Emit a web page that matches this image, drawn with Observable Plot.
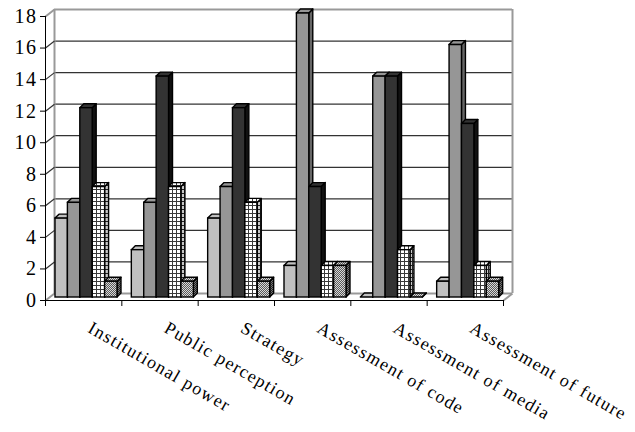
<!DOCTYPE html>
<html>
<head>
<meta charset="utf-8">
<script src="https://cdn.jsdelivr.net/npm/d3@7"></script>
<script src="https://cdn.jsdelivr.net/npm/@observablehq/plot@0.6"></script>
<style>
  html, body { margin: 0; padding: 0; background: #fff; }
  #chart svg, #chart svg text { font-family: "Liberation Serif", "Times New Roman", Tinos, serif !important; }
</style>
</head>
<body>
<div id="chart"></div>
<script>
// Categories along the floor of the 3D column chart
const categories = [
  "Institutional power",
  "Public perception",
  "Strategy",
  "Assessment of code",
  "Assessment of media",
  "Assessment of future"
];

// Five series, one value per category
const seriesNames = ["Series 1", "Series 2", "Series 3", "Series 4", "Series 5"];
const series1 = [5, 3, 5, 2, 0, 1];
const series2 = [6, 6, 7, 18, 14, 16];
const series3 = [12, 14, 12, 7, 14, 11];
const series4 = [7, 7, 6, 2, 3, 2];
const series5 = [1, 1, 1, 2, 0, 1];
const seriesValues = [series1, series2, series3, series4, series5];

// Value-axis tick labels
const yTicks = [0, 2, 4, 6, 8, 10, 12, 14, 16, 18];
// Category boundaries on the floor
const xBoundaries = [0, 1, 2, 3, 4, 5, 6];

// Face fills: front/top faces and the darker right-hand side faces
const frontFills = ["#c0c0c0", "#969696", "#333333", "url(#grid)", "url(#dots)"];
const sideFills = ["#8a8a8a", "#666666", "#111111", "url(#gridSide)", "url(#dotsSide)"];

// Geometry of the pseudo-3D box (in scale units)
const WALL_X = 0.118, WALL_Y = 0.444;  // depth from front edge to back wall
const CAP_X = 0.052, CAP_Y = 0.25;     // depth of each column
const OFFSET = 0.131, BW = 0.1625;     // first column inset and column width

const bars = categories.flatMap((cat, i) =>
  seriesValues.map((vals, j) => {
    const x1 = i + OFFSET + j * BW;
    return {id: `${i}-${j}`, cat, series: seriesNames[j], value: vals[i], x1, x2: x1 + BW};
  })
);

const tops = bars.flatMap(b => [
  {id: b.id, key: b.series, y: b.value, x1: b.x1, x2: b.x2},
  {id: b.id, key: b.series, y: b.value + CAP_Y, x1: b.x1 + CAP_X, x2: b.x2 + CAP_X}
]);

const sides = bars.flatMap(b => [
  {id: b.id, key: b.series + " side", x: b.x2, y1: 0, y2: b.value},
  {id: b.id, key: b.series + " side", x: b.x2 + CAP_X, y1: CAP_Y, y2: b.value + CAP_Y}
]);

// Hatch patterns used by the two textured series
function patternDefs() {
  const defs = d3.create("svg:defs");
  const grid = (id, bg, line) => {
    const p = defs.append("pattern").attr("id", id)
      .attr("width", 4).attr("height", 4).attr("patternUnits", "userSpaceOnUse");
    p.append("rect").attr("width", 4).attr("height", 4).attr("fill", bg);
    p.append("path").attr("d", "M0,0.5H4M0.5,0V4").attr("stroke", line).attr("stroke-width", 1);
  };
  const dots = (id, a, b) => {
    const p = defs.append("pattern").attr("id", id)
      .attr("width", 2).attr("height", 2).attr("patternUnits", "userSpaceOnUse");
    p.append("rect").attr("width", 2).attr("height", 2).attr("fill", b);
    p.append("rect").attr("width", 1).attr("height", 1).attr("fill", a);
    p.append("rect").attr("x", 1).attr("y", 1).attr("width", 1).attr("height", 1).attr("fill", a);
  };
  grid("grid", "#ffffff", "#3a3a3a");
  grid("gridSide", "#c8c8c8", "#222222");
  dots("dots", "#5a5a5a", "#d8d8d8");
  dots("dotsSide", "#222222", "#777777");
  return defs.node();
}

const serif = "Liberation Serif, Times New Roman, Tinos, serif";

const chart = Plot.plot({
  width: 635,
  height: 432,
  marginLeft: 45,
  marginRight: 132,
  marginTop: 16,
  marginBottom: 132,
  style: {background: "#fff", fontFamily: serif, overflow: "visible"},
  x: {domain: [0, 6], label: null},
  y: {domain: [0, 18], label: null},
  color: {
    type: "ordinal",
    domain: [...seriesNames, ...seriesNames.map(s => s + " side")],
    range: [...frontFills, ...sideFills]
  },
  marks: [
    patternDefs,
    // back wall gridlines
    Plot.ruleY(yTicks.slice(1, -1), {dx: 9, dy: -7, stroke: "#333", strokeWidth: 1.3}),
    // back wall frame and floor back edge
    Plot.ruleY([0, 18], {dx: 9, dy: -7, stroke: "#999", strokeWidth: 2}),
    Plot.ruleX([0, 6], {y1: 0, y2: 18, dx: 9, dy: -7, stroke: "#999", strokeWidth: 2}),
    // side wall gridlines running back from the value axis
    Plot.link(yTicks.slice(1, -1), {x1: () => 0, y1: d => d, x2: () => WALL_X, y2: d => d + WALL_Y, stroke: "#333", strokeWidth: 1.2}),
    Plot.link([0, 18], {x1: () => 0, y1: d => d, x2: () => WALL_X, y2: d => d + WALL_Y, stroke: "#999", strokeWidth: 2}),
    Plot.link([6], {x1: d => d, y1: () => 0, x2: d => d + WALL_X, y2: () => WALL_Y, stroke: "#999", strokeWidth: 2}),
    // columns: side faces, top faces, front faces
    Plot.areaY(sides, {x: "x", y1: "y1", y2: "y2", z: "id", fill: "key", stroke: "#000", strokeWidth: 1.4, dy: -3}),
    Plot.areaX(tops, {y: "y", x1: "x1", x2: "x2", z: "id", fill: "key", stroke: "#000", strokeWidth: 1.4, dy: -3}),
    Plot.rect(bars, {x1: "x1", x2: "x2", y1: 0, y2: "value", fill: "series", stroke: "#000", strokeWidth: 1.4, dy: -3}),
    // front edges of the floor and the value axis
    Plot.ruleY([0], {stroke: "#000", strokeWidth: 1}),
    Plot.ruleX([0], {y1: 0, y2: 18, stroke: "#000", strokeWidth: 1}),
    Plot.axisY(yTicks, {tickSize: 5, tickPadding: 3, fontSize: 20, fontFamily: serif, label: null, fill: "#000", className: "value-axis"}),
    Plot.axisX(xBoundaries, {tickSize: 6, tickFormat: () => "", label: null}),
    // rotated category labels
    Plot.text(categories, {
      x: (d, i) => i + 0.5, y: 0, text: d => d,
      rotate: 30, textAnchor: "start", dx: 6, dy: 26, fontSize: 18, fontFamily: serif, fill: "#000",
      className: "cat-labels"
    })
  ]
});

d3.select(chart).selectAll(".cat-labels text").attr("letter-spacing", "1.3px");
d3.select(chart).selectAll(".value-axis text").attr("letter-spacing", "1.5px");
d3.select(chart).selectAll("text").attr("font-family", serif);
document.getElementById("chart").append(chart);
</script>
</body>
</html>
